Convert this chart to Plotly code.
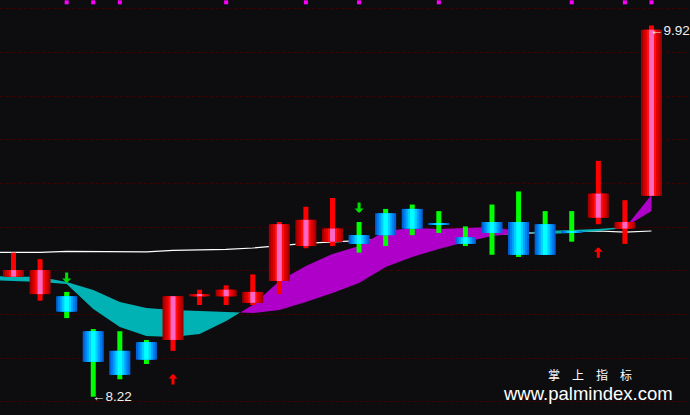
import plotly.graph_objects as go

# ---------------- data ----------------
idx = list(range(25))
opens = [8.77, 8.69, 8.68, 8.52, 8.43, 8.47, 8.48, 8.68, 8.68, 8.65, 8.75, 8.91, 8.93,
         8.96, 9.06, 9.08, 9.01, 8.95, 9.02, 9.02, 9.01, 8.97, 9.04, 8.99, 9.14]
highs = [8.88, 8.85, 8.70, 8.53, 8.52, 8.48, 8.68, 8.71, 8.73, 8.78, 9.02, 9.09, 9.13,
         9.02, 9.08, 9.10, 9.07, 9.00, 9.10, 9.16, 9.07, 9.07, 9.30, 9.12, 9.92]
lows = [8.77, 8.66, 8.58, 8.22, 8.30, 8.37, 8.43, 8.64, 8.64, 8.64, 8.69, 8.90, 8.91,
        8.88, 8.91, 8.96, 8.97, 8.91, 8.87, 8.86, 8.87, 8.93, 9.01, 8.92, 9.14]
closes = [8.80, 8.80, 8.61, 8.38, 8.32, 8.39, 8.68, 8.69, 8.71, 8.70, 9.01, 9.03, 8.99,
          8.92, 8.96, 8.99, 9.01, 8.92, 8.97, 8.87, 8.87, 8.97, 9.15, 9.02, 9.90]

# indicator lines (one extra bar before the first visible one)
line_idx = list(range(-1, 25))
ma_white = [8.881, 8.881, 8.881, 8.886, 8.886, 8.883, 8.883, 8.890, 8.891, 8.895, 8.901,
            8.913, 8.922, 8.929, 8.935, 8.941, 8.946, 8.951, 8.957, 8.962, 8.968, 8.972,
            8.977, 8.979, 8.974, 8.979]
band_a = [8.773, 8.771, 8.768, 8.745, 8.709, 8.654, 8.626, 8.617, 8.613, 8.608, 8.603,
          8.617, 8.654, 8.695, 8.741, 8.814, 8.860, 8.897, 8.929, 8.956, 8.970, 8.979,
          8.984, 8.988, 8.997, 9.070]
band_b = [8.755, 8.750, 8.745, 8.736, 8.622, 8.539, 8.498, 8.494, 8.507, 8.567, 8.640,
          8.750, 8.819, 8.874, 8.910, 8.979, 8.993, 8.988, 8.993, 8.997, 8.979, 8.965,
          8.970, 8.979, 8.993, 9.144]

sell_signals = [2, 13]
buy_signals = [6, 22]
top_marks = [2, 3, 4, 8, 11, 13, 16, 21, 23, 24]
grid_levels = [9.9977, 9.7962, 9.5947, 9.3979, 9.1964, 8.9949, 8.7980, 8.5966, 8.3951, 8.1982]
watermark_cn = "掌　上　指　标"
watermark_url = "www.palmindex.com"

# ---------------- style ----------------
BG = "#0D0D10"
X_RANGE = [-0.508, 25.449]
Y_RANGE = [8.1364, 10.0366]
MARK_LEVEL = 10.026
CYAN = "#00B2B4"
MAGENTA = "#AE00C8"
UP_LAYERS = [(0.79, "#A00000"), (0.64, "#C80000"), (0.49, "#E80000"), (0.34, "#FF1010"), (0.19, "#FF66C4")]
DN_LAYERS = [(0.79, "#0062D6"), (0.64, "#0080F0"), (0.49, "#00A2FF"), (0.34, "#00D0FF"), (0.17, "#00FFFF")]
WICK_W = 0.188

fig = go.Figure()

# white moving average (base layer)
fig.add_trace(go.Scatter(x=line_idx, y=ma_white, mode="lines",
                         line=dict(color="#FFFFFF", width=1.2), hoverinfo="skip",
                         xaxis="x", yaxis="y"))


# band between two lines, coloured by which one is on top
def band_regions(xs, a, b):
    regions = []
    sign = (a[0] - b[0]) >= 0
    cur = [(xs[0], a[0], b[0])]
    for i in range(1, len(xs)):
        d0 = a[i - 1] - b[i - 1]
        d1 = a[i] - b[i]
        if (d0 >= 0) != (d1 >= 0):
            t = d0 / (d0 - d1)
            xc = xs[i - 1] + t * (xs[i] - xs[i - 1])
            yc = a[i - 1] + t * (a[i] - a[i - 1])
            cur.append((xc, yc, yc))
            regions.append((cur, sign))
            cur = [(xc, yc, yc)]
            sign = d1 >= 0
        cur.append((xs[i], a[i], b[i]))
    regions.append((cur, sign))
    return regions


for pts, a_on_top in band_regions(line_idx, band_a, band_b):
    px = [p[0] for p in pts] + [p[0] for p in reversed(pts)]
    py = [p[1] for p in pts] + [p[2] for p in reversed(pts)]
    col = CYAN if a_on_top else MAGENTA
    fig.add_trace(go.Scatter(x=px, y=py, mode="lines", fill="toself", fillcolor=col,
                             line=dict(width=0, color=col), hoverinfo="skip",
                             xaxis="x", yaxis="y"))

# candles on overlay axes (drawn above the band)
up = [c > o for o, c in zip(opens, closes)]
wick_col = ["#FF0000" if u else "#00FF00" for u in up]
fig.add_trace(go.Bar(x=idx, y=[h - l for h, l in zip(highs, lows)], base=lows,
                     width=WICK_W, marker=dict(color=wick_col, line=dict(width=0)),
                     hoverinfo="skip", xaxis="x2", yaxis="y2"))
body_base = [min(o, c) for o, c in zip(opens, closes)]
body_h = [max(abs(c - o), 0.0045) for o, c in zip(opens, closes)]
for k in range(len(UP_LAYERS)):
    w = [UP_LAYERS[k][0] if u else DN_LAYERS[k][0] for u in up]
    cols = [UP_LAYERS[k][1] if u else DN_LAYERS[k][1] for u in up]
    fig.add_trace(go.Bar(x=idx, y=body_h, base=body_base, width=w,
                         marker=dict(color=cols, line=dict(width=0)),
                         hoverinfo="skip", xaxis="x2", yaxis="y2"))

# magenta signal dots on top
fig.add_trace(go.Scatter(x=top_marks, y=[MARK_LEVEL] * len(top_marks), mode="markers",
                         marker=dict(symbol="square", size=4, color="#FF00FF", line=dict(width=0)),
                         hoverinfo="skip", xaxis="x2", yaxis="y2"))

annotations = []
for i in sell_signals:
    annotations.append(dict(x=i, y=highs[i], xref="x2", yref="y2", text="", showarrow=True,
                            arrowhead=1, arrowsize=0.5, arrowwidth=3, arrowcolor="#00E000",
                            ax=0, ay=-12, yshift=9))
for i in buy_signals:
    annotations.append(dict(x=i, y=lows[i], xref="x2", yref="y2", text="", showarrow=True,
                            arrowhead=1, arrowsize=0.5, arrowwidth=3, arrowcolor="#FF0000",
                            ax=0, ay=12, yshift=-23))

hi_i = max(idx, key=lambda i: highs[i])
lo_i = min(idx, key=lambda i: lows[i])
lab_font = dict(family="Liberation Sans, Arial", size=13.5, color="#F0F0F0")
annotations.append(dict(x=hi_i, y=highs[hi_i], xref="x2", yref="y2", text=f"←{highs[hi_i]:.2f}",
                        showarrow=False, xanchor="left", yanchor="middle", xshift=-3, yshift=-5,
                        font=lab_font))
annotations.append(dict(x=lo_i, y=lows[lo_i], xref="x2", yref="y2", text=f"←{lows[lo_i]:.2f}",
                        showarrow=False, xanchor="left", yanchor="middle", xshift=-3, yshift=0,
                        font=lab_font))
annotations.append(dict(x=0.855, y=0.097, xref="paper", yref="paper", text=watermark_cn,
                        showarrow=False, xanchor="center", yanchor="middle",
                        font=dict(family="Noto Sans CJK SC", size=12, color="#FFFFFF")))
annotations.append(dict(x=0.852, y=0.053, xref="paper", yref="paper", text=watermark_url,
                        showarrow=False, xanchor="center", yanchor="middle",
                        font=dict(family="Liberation Sans, Arial", size=18.5, color="#FFFFFF")))

axis_off = dict(showgrid=False, zeroline=False, showticklabels=False, ticks="", showline=False,
                fixedrange=True)
fig.update_layout(
    width=690, height=415,
    margin=dict(l=0, r=0, t=0, b=0, pad=0),
    paper_bgcolor=BG, plot_bgcolor=BG,
    showlegend=False, barmode="overlay",
    xaxis=dict(range=X_RANGE, **axis_off),
    yaxis=dict(range=Y_RANGE, tickvals=grid_levels, showgrid=True, gridcolor="#3E0000",
               griddash="dot", gridwidth=1, zeroline=False, showticklabels=False, ticks="",
               showline=False, fixedrange=True),
    xaxis2=dict(range=X_RANGE, overlaying="x", **axis_off),
    yaxis2=dict(range=Y_RANGE, overlaying="y", **axis_off),
    annotations=annotations,
)

fig.write_html("out.html", config={"displayModeBar": False},
               post_script="document.body.style.margin='0';document.body.style.overflow='hidden';"
                           "document.body.style.background='" + BG + "';")
